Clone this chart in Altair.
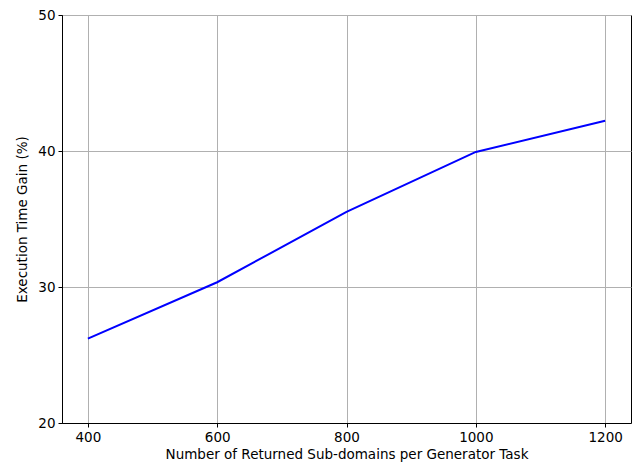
import altair as alt
import pandas as pd

subdomains = [400, 600, 800, 1000, 1200]
gain = [26.2, 30.35, 35.52, 39.93, 42.23]

df = pd.DataFrame({"x": subdomains, "y": gain})

font = "DejaVu Sans"

chart = alt.Chart(df).mark_line(color="#0000ff", strokeWidth=2, clip=True).encode(
    x=alt.X("x:Q", scale=alt.Scale(domain=[360, 1240], nice=False, zero=False),
            axis=alt.Axis(values=[400, 600, 800, 1000, 1200], format="d",
                          title="Number of Returned Sub-domains per Generator Task",
                          titlePadding=4)),
    y=alt.Y("y:Q", scale=alt.Scale(domain=[20, 50], nice=False, zero=False),
            axis=alt.Axis(values=[20, 30, 40, 50], format="d",
                          title="Execution Time Gain (%)", titlePadding=8)),
).properties(
    width=569, height=408,
    background="white",
    autosize=alt.AutoSizeParams(type="none"),
    padding={"left": 62, "top": 15, "right": 5, "bottom": 46},
).configure_view(
    stroke="black", strokeWidth=1
).configure_axis(
    labelFont=font, titleFont=font, labelFontSize=13.5, titleFontSize=13.5,
    labelColor="black", titleColor="black", titleFontWeight="normal",
    domainColor="black", domainWidth=1, tickColor="black", tickSize=4, tickWidth=1,
    labelPadding=3, grid=True, gridColor="#b0b0b0", gridWidth=1,
)

chart.save("out.html", embed_options={"renderer": "svg", "actions": False})
